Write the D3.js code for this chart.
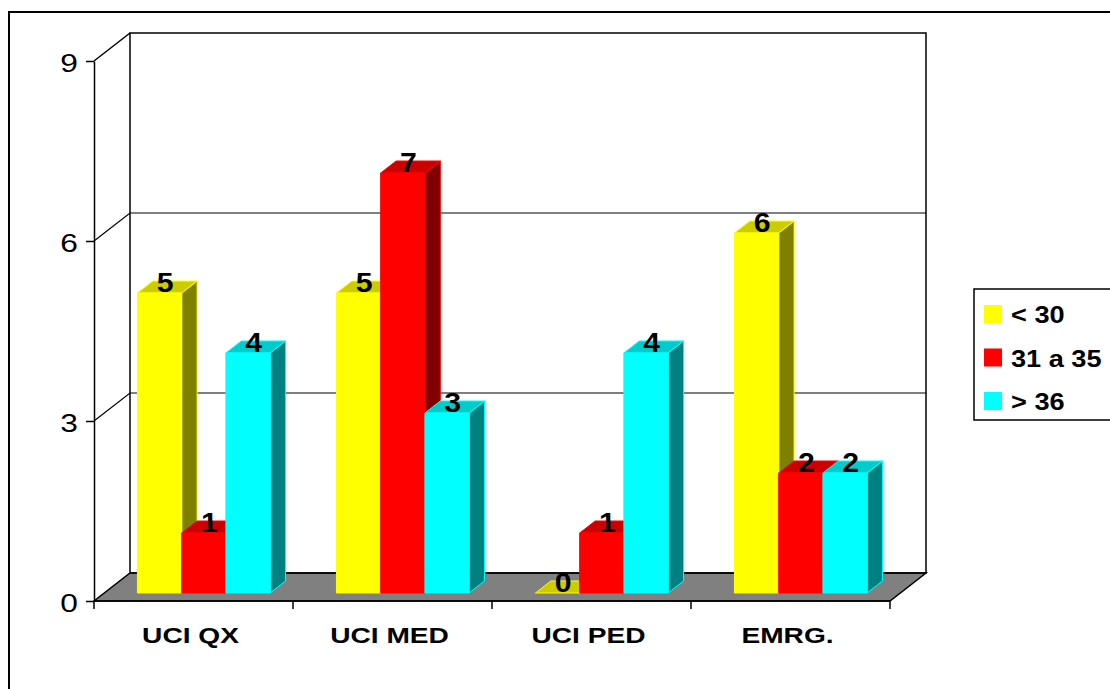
<!DOCTYPE html>
<html>
<head>
<meta charset="utf-8">
<script src="https://cdn.jsdelivr.net/npm/d3@7"></script>
<style>
  html, body { margin: 0; padding: 0; background: #fff; }
  svg { display: block; font-family: "Liberation Sans", Arial, sans-serif; }
</style>
</head>
<body>
<svg id="chart" width="1110" height="689"></svg>
<script>
// Categories and series
const categories = ["UCI QX", "UCI MED", "UCI PED", "EMRG."];
const seriesNames = ["< 30", "31 a 35", "> 36"];
const valuesUnder30 = [5, 5, 0, 6];
const values31to35 = [1, 7, 1, 2];
const valuesOver36 = [4, 3, 4, 2];
const yTicks = [0, 3, 6, 9];

const seriesValues = [valuesUnder30, values31to35, valuesOver36];
const faceColors = [
  { front: "#ffff00", top: "#cccc00", side: "#808000" },
  { front: "#ff0000", top: "#cc0000", side: "#800000" },
  { front: "#00ffff", top: "#00cccc", side: "#008080" }
];

const svg = d3.select("#chart");

// 3-D frame: front plane and depth offset of the back wall
const X0 = 94, X1 = 890;
const Y0 = 601, Y9 = 61;
const DX = 36, DY = 28;
const zFront = 8 / 28, zBack = 20 / 28;

const x = d3.scaleBand().domain(categories).range([X0, X1]).padding(0);
const bw = x.bandwidth();
const sub = d3.scaleBand().domain(seriesNames)
  .range([bw * 0.75 / 4.5, bw * 3.75 / 4.5]).padding(0);
const y = d3.scaleLinear().domain([0, 9]).range([Y0, Y9]);

const P = (px, v, z) => [px + DX * z, y(v) - DY * z];
const poly = pts => "M" + pts.map(p => p.join(",")).join("L") + "Z";

// Outer chart border
svg.append("rect").attr("x", 9).attr("y", 12)
  .attr("width", 1200).attr("height", 800)
  .attr("fill", "none").attr("stroke", "#000").attr("stroke-width", 2);

// Floor
svg.append("path")
  .attr("d", poly([P(X0, 0, 0), P(X1, 0, 0), P(X1, 0, 1), P(X0, 0, 1)]))
  .attr("fill", "#808080").attr("stroke", "#000").attr("stroke-width", 1.5);

// Back wall and side wall outlines
svg.append("path")
  .attr("d", poly([P(X0, 0, 1), P(X0, 9, 1), P(X1, 9, 1), P(X1, 0, 1)]))
  .attr("fill", "none").attr("stroke", "#000").attr("stroke-width", 1.5);
svg.append("path")
  .attr("d", "M" + P(X0, 9, 0).join(",") + "L" + P(X0, 9, 1).join(","))
  .attr("fill", "none").attr("stroke", "#000").attr("stroke-width", 1.5);

// Gridlines on side and back walls
yTicks.filter(t => t > 0 && t < 9).forEach(t => {
  svg.append("path")
    .attr("d", "M" + P(X0, t, 0).join(",") + "L" + P(X0, t, 1).join(",") + "L" + P(X1, t, 1).join(","))
    .attr("fill", "none").attr("stroke", "#000").attr("stroke-width", 1.2);
});

// Y axis
const yAxis = svg.append("g").attr("transform", `translate(${X0},0)`)
  .call(d3.axisLeft(y).tickValues(yTicks).tickSize(8).tickSizeOuter(0).tickFormat(d3.format("d")));
yAxis.select(".domain").attr("stroke", "#000").attr("stroke-width", 1.5);
yAxis.selectAll(".tick line").attr("stroke", "#000").attr("stroke-width", 1.5);
yAxis.selectAll(".tick text")
  .attr("x", null).attr("dy", null)
  .attr("transform", "translate(-16,10) scale(1.22,1)")
  .attr("font-size", 26).attr("fill", "#000")
  .attr("font-family", "Liberation Sans, Arial, sans-serif");

// X axis (front edge of the floor)
const xAxis = svg.append("g").attr("transform", `translate(0,${Y0})`);
xAxis.append("line").attr("x1", X0).attr("x2", X1)
  .attr("stroke", "#000").attr("stroke-width", 1.5);
xAxis.selectAll("line.tk").data(categories.map(c => x(c)).concat([X1]))
  .join("line").attr("class", "tk")
  .attr("x1", d => d).attr("x2", d => d).attr("y1", 0).attr("y2", 8)
  .attr("stroke", "#000").attr("stroke-width", 1.5);
xAxis.selectAll("text").data(categories).join("text")
  .attr("transform", d => `translate(${x(d) + bw / 2 - 3},42) scale(1.25,1)`)
  .attr("text-anchor", "middle").attr("font-size", 22.5).attr("font-weight", "bold")
  .text(d => d);

// Bars: front, top and side faces, drawn left to right
const bars = [];
categories.forEach((c, ci) => {
  seriesNames.forEach((s, si) => {
    bars.push({ c, s, si, v: seriesValues[si][ci], x0: x(c) + sub(s), x1: x(c) + sub(s) + sub.bandwidth() });
  });
});
bars.sort((a, b) => a.x0 - b.x0);

const barG = svg.append("g");
bars.forEach(b => {
  const col = faceColors[b.si];
  const g = barG.append("g");
  const front = [P(b.x0, 0, zFront), P(b.x1, 0, zFront), P(b.x1, b.v, zFront), P(b.x0, b.v, zFront)];
  const top = [P(b.x0, b.v, zFront), P(b.x1, b.v, zFront), P(b.x1, b.v, zBack), P(b.x0, b.v, zBack)];
  const side = [P(b.x1, 0, zFront), P(b.x1, 0, zBack), P(b.x1, b.v, zBack), P(b.x1, b.v, zFront)];
  g.append("path").attr("d", poly(side)).attr("fill", col.side).attr("stroke", col.front).attr("stroke-width", 1);
  g.append("path").attr("d", poly(top)).attr("fill", col.top).attr("stroke", col.front).attr("stroke-width", 1);
  if (b.v > 0) g.append("path").attr("d", poly(front)).attr("fill", col.front).attr("stroke", col.front).attr("stroke-width", 1);
});

// Value labels
svg.append("g").selectAll("text").data(bars).join("text")
  .attr("transform", d => {
    const cx = (d.x0 + d.x1) / 2 + DX * (zFront + zBack) / 2 - 2;
    const cy = y(d.v) - DY * zFront - 1;
    return `translate(${cx},${cy}) scale(1.12,1)`;
  })
  .attr("text-anchor", "middle").attr("font-size", 27).attr("font-weight", "bold")
  .text(d => d.v);

// Legend
const legend = svg.append("g");
legend.append("rect").attr("x", 974).attr("y", 289).attr("width", 200).attr("height", 131)
  .attr("fill", "#fff").attr("stroke", "#000").attr("stroke-width", 1.5);
seriesNames.forEach((s, i) => {
  const ly = 305 + i * 43.5;
  legend.append("rect").attr("x", 984).attr("y", ly).attr("width", 18).attr("height", 18)
    .attr("fill", faceColors[i].front);
  legend.append("text").attr("transform", `translate(1011,${ly + 18}) scale(1.18,1)`)
    .attr("font-size", 23).attr("font-weight", "bold").text(s);
});
</script>
</body>
</html>
